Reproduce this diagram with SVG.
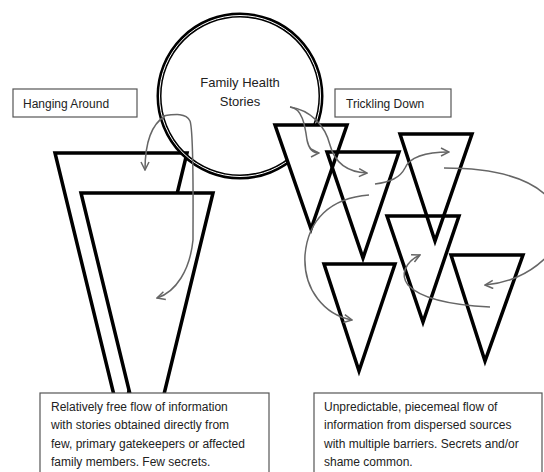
<svg xmlns="http://www.w3.org/2000/svg" width="544" height="472" viewBox="0 0 544 472">
<defs>
<marker id="chev" viewBox="0 0 10 10" refX="9" refY="5" markerWidth="10" markerHeight="10" markerUnits="userSpaceOnUse" orient="auto">
<path d="M1,1 L9,5 L1,9" fill="none" stroke="#666" stroke-width="1.5"/>
</marker>
</defs>
<style>
text{font-family:"Liberation Sans",Arial,sans-serif;fill:#222;font-size:12px}
.box{fill:#fff;stroke:#555;stroke-width:1.2}
.tri{fill:none;stroke:#000;stroke-width:3.5;stroke-linejoin:miter}
.trif{fill:#fff;stroke:#000;stroke-width:3.5}
.con{fill:none;stroke:#666;stroke-width:1.5;marker-end:url(#chev)}
</style>
<rect width="544" height="472" fill="#fff"/>
<g id="hanging-around-funnel">
<polygon class="trif" points="55,153 187,153 121,424"/>
<polygon class="trif" points="81,193 213,193 147,464"/>
</g>
<g id="family-health-stories">
<circle cx="240" cy="96" r="81" fill="none" stroke="#000" stroke-width="5"/>
<circle cx="240" cy="96" r="80.5" fill="none" stroke="#fff" stroke-width="1"/>
<text x="240" y="87" text-anchor="middle" style="font-size:13px">Family Health</text>
<text x="240" y="106" text-anchor="middle" style="font-size:13px">Stories</text>
</g>
<g id="hanging-around-label">
<rect class="box" x="13" y="89" width="124" height="28"/>
<text x="23" y="108">Hanging Around</text>
</g>
<g id="trickling-down-label">
<rect class="box" x="335" y="89" width="116" height="28"/>
<text x="346" y="108">Trickling Down</text>
</g>
<g id="trickling-triangles">
<polygon class="trif" points="275,125 347,125 311,229"/>
<polygon class="tri" points="327,152 399,152 363,258"/>
<polygon class="tri" points="400,134 472,134 435,241"/>
<polygon class="tri" points="387,216 459,216 423,322"/>
<polygon class="tri" points="324,264 395,264 359,371"/>
<polygon class="tri" points="451,255 523,255 485,361"/>
</g>
<g id="connectors">
<path class="con" d="M165,116 C152,124 145,142 145,170"/>
<path class="con" d="M163,116 C176,114 186,113 190,121 C194,132 193,200 193,240 C190,270 176,292 157,298"/>
<path class="con" d="M290,107 C302,108 305,125 307,140 C309,150 313,153 319,153"/>
<path class="con" d="M290,107 C310,110 325,125 330,145 C334,160 345,172 367,173"/>
<path class="con" d="M375,184 C390,182 400,178 405,168 C410,157 425,152 449,152"/>
<path class="con" d="M369,195 C330,198 308,220 305,255 C303,290 325,315 352,320"/>
<path class="con" d="M444,168 C500,168 545,180 560,215 C570,245 530,282 485,285"/>
<path class="con" d="M490,307 C450,305 420,298 408,285 C400,275 405,262 420,255"/>
</g>
<g id="hanging-around-description">
<rect class="box" x="40" y="393" width="229" height="90"/>
<text x="51" y="411">Relatively free flow of information</text>
<text x="51" y="429">with stories obtained directly from</text>
<text x="51" y="448">few, primary gatekeepers or affected</text>
<text x="51" y="466">family members. Few secrets.</text>
</g>
<g id="trickling-down-description">
<rect class="box" x="314" y="393" width="228" height="90"/>
<text x="324" y="411">Unpredictable, piecemeal flow of</text>
<text x="324" y="429">information from dispersed sources</text>
<text x="324" y="448">with multiple barriers. Secrets and/or</text>
<text x="324" y="466">shame common.</text>
</g>
</svg>
